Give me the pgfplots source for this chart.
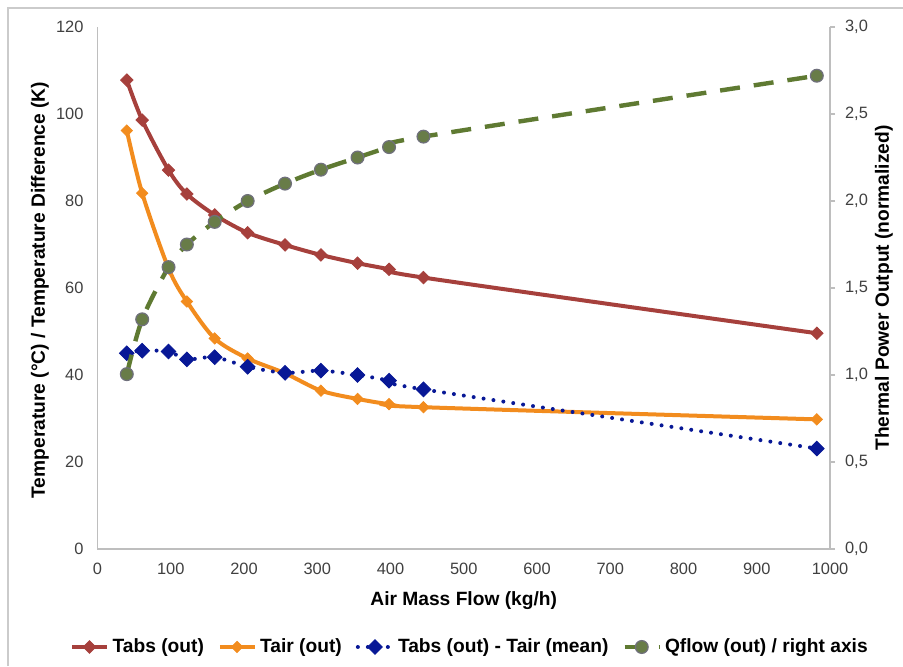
\documentclass[border=0pt]{standalone}
\usepackage{pgfplots}
\pgfplotsset{compat=1.18}
\usepackage{fontspec}
\setmainfont{Liberation Sans}
\definecolor{cTabs}{RGB}{166,64,60}
\definecolor{cTair}{RGB}{242,140,30}
\definecolor{cDiff}{RGB}{8,24,150}
\definecolor{cQ}{RGB}{95,122,50}
\definecolor{cQm}{RGB}{104,124,72}
\definecolor{cQe}{RGB}{112,112,124}
\definecolor{cAxis}{RGB}{190,190,190}
\definecolor{cTick}{RGB}{64,64,64}
\newcommand{\fs}{\fontsize{8.2}{9.8}\selectfont}
\newcommand{\fl}{\fontsize{9.6}{11.5}\selectfont}
\pgfplotsset{
  tabsstyle/.style={cTabs, line width=2pt, smooth, mark=square*, mark size=2.2pt, mark options={rotate=45, solid, fill=cTabs, draw=cTabs, line width=0.4pt}},
  tairstyle/.style={cTair, line width=2pt, smooth, mark=square*, mark size=2.0pt, mark options={rotate=45, solid, fill=cTair, draw=cTair, line width=0.4pt}},
  diffstyle/.style={cDiff, line width=2pt, line cap=round, dash pattern=on 0pt off 5pt, smooth, mark=square*, mark size=2.6pt, mark options={rotate=45, solid, fill=cDiff, draw=cDiff, line width=0.4pt}},
  qstyle/.style={cQ, line width=2.2pt, dash pattern=on 10pt off 7pt, smooth, mark=*, mark size=3.2pt, mark options={solid, fill=cQm, draw=cQe, line width=0.6pt}},
}
\begin{document}
\begin{tikzpicture}[x=1pt,y=1pt]
\useasboundingbox (-48.75,-58.5) rectangle (402.75,274.5);
\draw[cAxis!80, line width=1pt] (-44.75,-58.5) -- (-44.75,270.5) -- (402.75,270.5);
\begin{axis}[
  at={(0,0)}, anchor=south west,
  scale only axis, width=366.25pt, height=261pt,
  xmin=0, xmax=1000, ymin=0, ymax=120,
  xtick={0,100,...,1000}, ytick={0,20,...,120},
  axis x line*=bottom, axis y line*=left,
  axis line style={cAxis, line width=0.8pt, -},
  major tick length=0pt,
  tick label style={font=\fs, text=cTick},
  /pgf/number format/assume math mode=true,
  /pgf/number format/1000 sep={},
  xticklabel style={yshift=-3.5pt},
  yticklabel style={xshift=-3.5pt},
  xlabel={\bfseries Air Mass Flow (kg/h)},
  xlabel style={font=\fl, at={(axis description cs:0.5,-0.098)}, anchor=center},
  ylabel={\bfseries Temperature (°C) / Temperature Difference (K)},
  ylabel style={font=\fl, at={(axis description cs:-0.0785,0.496)}, anchor=center},
  legend columns=4,
  legend style={draw=none, fill=none, font=\fl\bfseries, at={(axis description cs:0.51,-0.1877)}, anchor=center,
    /tikz/every even column/.append style={column sep=5pt}},
  legend cell align=left,
]
\addplot[tabsstyle] coordinates {(40,107.8) (61,98.6) (97,87.1) (122,81.6) (160,76.8) (205,72.7) (256,69.9) (305,67.6) (355,65.7) (398,64.3) (445,62.4) (982,49.6)};
\addlegendentry{Tabs (out)}
\addplot[tairstyle] coordinates {(40,96.2) (61,81.8) (97,64.5) (122,56.9) (160,48.4) (205,43.8) (256,40.4) (305,36.4) (355,34.5) (398,33.3) (445,32.6) (982,29.8)};
\addlegendentry{Tair (out)}
\addplot[diffstyle] coordinates {(40,45.0) (61,45.6) (97,45.4) (122,43.6) (160,44.1) (205,41.9) (256,40.5) (305,41.0) (355,40.0) (398,38.7) (445,36.7) (982,23.1)};
\addlegendentry{Tabs (out) - Tair (mean)}
\addlegendimage{qstyle}
\addlegendentry{Qflow (out) / right axis}
\end{axis}
\begin{axis}[
  at={(0,0)}, anchor=south west,
  scale only axis, width=366.25pt, height=261pt,
  xmin=0, xmax=1000, ymin=0, ymax=3,
  ytick={0,0.5,...,3},
  axis x line=none, axis y line*=right,
  axis line style={cAxis, line width=0.8pt, -},
  tick align=outside, major tick length=2.5pt,
  tick style={cAxis, line width=0.8pt},
  tick label style={font=\fs, text=cTick},
  /pgf/number format/assume math mode=true,
  yticklabel style={/pgf/number format/.cd, fixed, fixed zerofill, precision=1, use comma, /tikz/.cd, xshift=1.5pt},
  ylabel={\bfseries Thermal Power Output (normalized)},
  ylabel style={font=\fl, at={(axis description cs:1.0737,0.5)}, anchor=center},
]
\addplot[qstyle] coordinates {(40,1.005) (61,1.32) (97,1.62) (122,1.75) (160,1.88) (205,2.00) (256,2.10) (305,2.18) (355,2.25) (398,2.31) (445,2.37) (982,2.72)};
\end{axis}
\end{tikzpicture}
\end{document}
